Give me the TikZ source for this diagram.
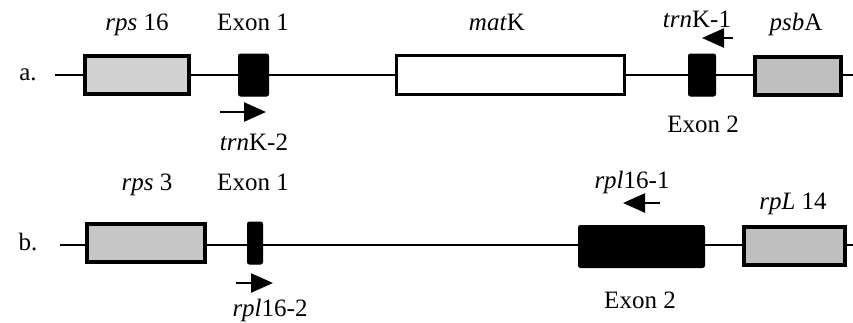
\documentclass[tikz,border=0pt]{standalone}
\usepackage{fontspec}
\setmainfont{Liberation Serif}
\usetikzlibrary{positioning, arrows.meta}

\tikzset{
  gene/.style={draw, line width=3.5pt, fill=gray!35, minimum height=38pt, inner sep=0pt},
  orf/.style={draw, line width=3pt, fill=white, minimum height=39pt, inner sep=0pt},
  exon/.style={draw, line width=1pt, fill=black, rounded corners=2pt, minimum height=42pt, inner sep=0pt},
  lbl/.style={anchor=base, inner sep=0pt, font=\fontsize{25}{30}\selectfont},
  backbone/.style={line width=2pt},
  primer/.style={line width=2.5pt, -{Triangle[length=22pt, width=19pt]}},
}

\begin{document}
\begin{tikzpicture}[x=1pt, y=-1pt]
    \useasboundingbox (0,0) rectangle (853,322);
    % row a
    \coordinate (A0) at (55,75);
    \coordinate (A1) at (853,75);
    \node[gene, minimum width=104pt] (rps16) at (137,75) {};
    \node[exon, minimum width=30pt] (ex1a) at (253.5,75) {};
    \node[orf, minimum width=228pt] (matK) at (510.5,75) {};
    \node[exon, minimum width=27pt] (ex2a) at (702,75) {};
    \node[gene, fill=gray!50, minimum width=86pt] (psbA) at (798,76) {};
    \draw[backbone] (A0) -- (rps16) -- (ex1a) -- (matK) -- (ex2a) -- (psbA.west |- A1);
    \draw[backbone] (psbA.east |- A1) -- (A1);
    \node[lbl] (la) at (28,80) {a.};
    \node[lbl] (lrps16) at (137,30) {\textit{rps} 16};
    \node[lbl] (lex1a) at (253,30) {Exon 1};
    \node[lbl] (lmatK) at (497,30) {\textit{mat}K};
    \node[lbl] (ltrnK1) at (697,27) {\textit{trn}K-1};
    \node[lbl] (lpsbA) at (796,30) {\textit{psb}A};
    \node[lbl] (lex2a) at (703,132) {Exon 2};
    \node[lbl] (ltrnK2) at (254,150) {\textit{trn}K-2};
    \coordinate (K2s) at (220,112);
    \coordinate (K2e) at (266,112);
    \draw[primer] (K2s) -- (K2e);
    \coordinate (K1s) at (733,38);
    \coordinate (K1e) at (702,38);
    \draw[primer] (K1s) -- (K1e);
    % row b
    \coordinate (B0) at (60,245);
    \coordinate (B1) at (853,245);
    \node[gene, fill=gray!45, minimum width=118pt] (rps3) at (146,243) {};
    \node[exon, minimum width=15pt] (ex1b) at (255,243) {};
    \node[exon, minimum width=126pt] (ex2b) at (641.5,246.5) {};
    \node[gene, fill=gray!50, minimum width=101pt] (rpL14) at (794.5,246) {};
    \draw[backbone] (B0) -- (rps3.west |- B0);
    \draw[backbone] (rps3.east |- B0) -- (ex1b.west |- B0);
    \draw[backbone] (ex1b.east |- B0) -- (ex2b.west |- B0);
    \draw[backbone] (ex2b.east |- B0) -- (rpL14.west |- B0);
    \draw[backbone] (rpL14.east |- B0) -- (B1);
    \node[lbl] (lb) at (28,250) {b.};
    \node[lbl] (lrps3) at (147,190) {\textit{rps} 3};
    \node[lbl] (lex1b) at (253,190) {Exon 1};
    \node[lbl] (lrpl161) at (632,188) {\textit{rpl}16-1};
    \node[lbl] (lrpL14) at (793,209) {\textit{rpL} 14};
    \node[lbl] (lrpl162) at (270,316) {\textit{rpl}16-2};
    \node[lbl] (lex2b) at (640,308) {Exon 2};
    \coordinate (R2s) at (236,283);
    \coordinate (R2e) at (273,283);
    \draw[primer] (R2s) -- (R2e);
    \coordinate (R1s) at (660,203);
    \coordinate (R1e) at (623,203);
    \draw[primer] (R1s) -- (R1e);
\end{tikzpicture}
\end{document}
